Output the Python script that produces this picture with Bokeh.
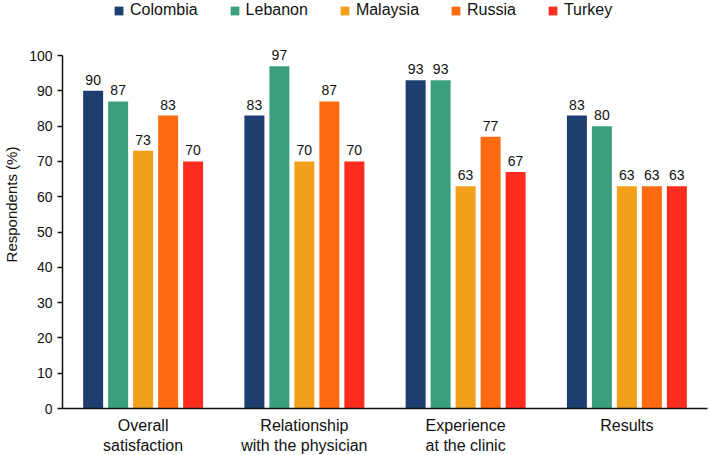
from bokeh.plotting import figure
from bokeh.models import (ColumnDataSource, FactorRange, Range1d, Legend, LegendItem,
                          LabelSet, SingleIntervalTicker)
from bokeh.core.properties import value
from bokeh.transform import dodge
from bokeh.embed import file_html
from bokeh.resources import INLINE

categories = ["Overall\nsatisfaction", "Relationship\nwith the physician",
              "Experience\nat the clinic", "Results"]
countries = ["Colombia", "Lebanon", "Malaysia", "Russia", "Turkey"]
colombia = [90, 83, 93, 83]
lebanon = [87, 97, 93, 80]
malaysia = [73, 70, 63, 63]
russia = [83, 87, 77, 63]
turkey = [70, 70, 67, 63]
colors = ["#1F3E70", "#3A9F7F", "#F29F1C", "#FE6A12", "#FE2C1E"]

series = [colombia, lebanon, malaysia, russia, turkey]
offsets = [-0.31, -0.155, 0.0, 0.155, 0.31]
bar_w = 0.124

FONT = "Liberation Sans"
Y_TOP = 115.6        # headroom above the 100 tick: room for labels and legend
FW, FH = 645, 408

p = figure(x_range=FactorRange(factors=categories, range_padding=0),
           y_range=Range1d(0, Y_TOP),
           frame_width=FW, frame_height=FH, output_backend="svg", toolbar_location=None,
           min_border_left=62, min_border_right=2, min_border_top=0, min_border_bottom=47)
p.outline_line_color = None
p.xgrid.visible = False
p.ygrid.visible = False

items = []
for name, vals, col, off in zip(countries, series, colors, offsets):
    src = ColumnDataSource(dict(cat=categories, val=vals, txt=[str(v) for v in vals]))
    r = p.vbar(x=dodge("cat", off, range=p.x_range), top="val", width=bar_w, bottom=0,
               source=src, fill_color=col, line_color=None)
    items.append(LegendItem(label=name, renderers=[r]))
    labels = LabelSet(x=dodge("cat", off, range=p.x_range), y="val", text="txt", source=src,
                      text_align="center", text_baseline="alphabetic", y_offset=6,
                      text_font=value(FONT), text_font_size=value("14px"),
                      text_color=value("#111111"))
    p.add_layout(labels)

legend = Legend(items=items, orientation="horizontal", location=(51, 389),
                border_line_color=None, background_fill_alpha=0, padding=0, margin=0,
                spacing=31, glyph_width=11, glyph_height=11, label_standoff=6,
                label_text_font=FONT, label_text_font_size="16px", label_text_color="#111111")
p.add_layout(legend, "center")

# y axis
p.yaxis.ticker = SingleIntervalTicker(interval=10)
p.yaxis.bounds = (0, 100)
p.yaxis.minor_tick_line_color = None
p.yaxis.major_tick_in = 0
p.yaxis.major_tick_out = 5
p.yaxis.major_tick_line_width = 1.5
p.yaxis.axis_line_width = 1.5
p.yaxis.axis_line_color = "#111111"
p.yaxis.major_tick_line_color = "#111111"
p.yaxis.major_label_text_font = FONT
p.yaxis.major_label_text_font_size = "14px"
p.yaxis.major_label_text_color = "#111111"
p.yaxis.major_label_standoff = 5
p.yaxis.axis_label = "Respondents (%)"
p.yaxis.axis_label_text_font = FONT
p.yaxis.axis_label_text_font_size = "15px"
p.yaxis.axis_label_text_font_style = "normal"
p.yaxis.axis_label_text_color = "#111111"
p.yaxis.axis_label_standoff = 6

# x axis
p.xaxis.major_tick_line_color = None
p.xaxis.minor_tick_line_color = None
p.xaxis.axis_line_width = 1.5
p.xaxis.axis_line_color = "#111111"
p.xaxis.major_label_text_font = FONT
p.xaxis.major_label_text_font_size = "16px"
p.xaxis.major_label_text_color = "#111111"
p.xaxis.major_label_standoff = 2
p.xaxis.major_label_orientation = "horizontal"

open("out.html", "w").write(file_html(p, INLINE))
